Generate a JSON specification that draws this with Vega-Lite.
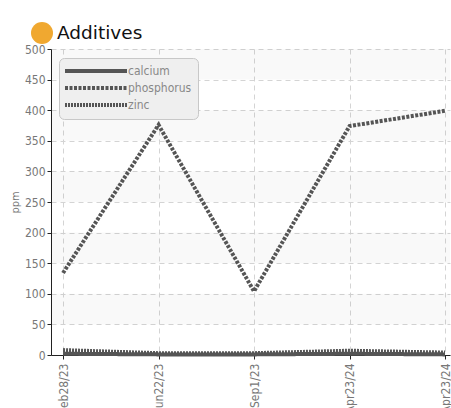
{
  "$schema": "https://vega.github.io/schema/vega-lite/v6.json",
  "width": 399,
  "height": 306,
  "autosize": {"type": "none"},
  "padding": {"left": 51, "top": 49, "right": 1, "bottom": 53},
  "background": "white",
  "config": {
    "view": {"stroke": null},
    "font": "DejaVu Sans Condensed, Roboto Condensed, Roboto, sans-serif",
    "axis": {
      "labelFont": "DejaVu Sans Condensed, Roboto Condensed, Roboto, sans-serif",
      "labelFontSize": 12,
      "labelColor": "#777777",
      "domainColor": "#222222",
      "tickColor": "#222222",
      "tickSize": 4,
      "gridColor": "#d4d4d4",
      "gridDash": [5, 4],
      "gridWidth": 1,
      "titleFont": "DejaVu Sans Condensed, Roboto Condensed, Roboto, sans-serif",
      "titleFontWeight": "normal",
      "titleFontSize": 11,
      "titleColor": "#777777"
    }
  },
  "datasets": {
    "bands": [
      {"lo": 50, "hi": 100},
      {"lo": 150, "hi": 200},
      {"lo": 250, "hi": 300},
      {"lo": 350, "hi": 400},
      {"lo": 450, "hi": 500}
    ],
    "readings": [
      {"idx": 0, "date": "Feb28/23", "analyte": "calcium", "ppm": 2},
      {"idx": 1, "date": "Jun22/23", "analyte": "calcium", "ppm": 1},
      {"idx": 2, "date": "Sep1/23", "analyte": "calcium", "ppm": 1},
      {"idx": 3, "date": "Apr23/24", "analyte": "calcium", "ppm": 2},
      {"idx": 4, "date": "Apr23/24", "analyte": "calcium", "ppm": 1},
      {"idx": 0, "date": "Feb28/23", "analyte": "phosphorus", "ppm": 134},
      {"idx": 1, "date": "Jun22/23", "analyte": "phosphorus", "ppm": 376},
      {"idx": 2, "date": "Sep1/23", "analyte": "phosphorus", "ppm": 104},
      {"idx": 3, "date": "Apr23/24", "analyte": "phosphorus", "ppm": 374},
      {"idx": 4, "date": "Apr23/24", "analyte": "phosphorus", "ppm": 399},
      {"idx": 0, "date": "Feb28/23", "analyte": "zinc", "ppm": 8},
      {"idx": 1, "date": "Jun22/23", "analyte": "zinc", "ppm": 3},
      {"idx": 2, "date": "Sep1/23", "analyte": "zinc", "ppm": 3},
      {"idx": 3, "date": "Apr23/24", "analyte": "zinc", "ppm": 7},
      {"idx": 4, "date": "Apr23/24", "analyte": "zinc", "ppm": 4}
    ],
    "panel": [{"panel": "Additives"}]
  },
  "layer": [
    {
      "data": {"name": "bands"},
      "mark": {"type": "rect", "color": "#000000", "opacity": 0.022},
      "encoding": {
        "y": {
          "field": "lo",
          "type": "quantitative",
          "scale": {"domain": [0, 500], "nice": false},
          "axis": {"title": "ppm", "values": [0, 50, 100, 150, 200, 250, 300, 350, 400, 450, 500], "labelPadding": 2, "titlePadding": 4}
        },
        "y2": {"field": "hi"}
      }
    },
    {
      "data": {"name": "readings"},
      "mark": {"type": "line", "color": "#555555"},
      "encoding": {
        "x": {
          "field": "idx",
          "type": "quantitative",
          "scale": {"domain": [-0.126, 4.052], "nice": false, "zero": false},
          "axis": {
            "title": null,
            "values": [0, 1, 2, 3, 4],
            "labelAngle": -90,
            "labelPadding": 4,
            "labelExpr": "['Feb28/23','Jun22/23','Sep1/23','Apr23/24','Apr23/24'][datum.value]"
          }
        },
        "y": {
          "field": "ppm",
          "type": "quantitative",
          "axis": {"title": "ppm", "values": [0, 50, 100, 150, 200, 250, 300, 350, 400, 450, 500], "labelPadding": 2, "titlePadding": 4}
        },
        "strokeDash": {
          "field": "analyte",
          "type": "nominal",
          "scale": {"domain": ["calcium", "phosphorus", "zinc"], "range": [[1, 0], [3, 1.5], [2, 1]]},
          "legend": {
            "orient": "none",
            "legendX": 8,
            "legendY": 9,
            "title": null,
            "fillColor": "#efefef",
            "strokeColor": "#c8c8c8",
            "cornerRadius": 5,
            "padding": 6,
            "symbolType": "M-6.2,0H6.2",
            "symbolSize": 100,
            "symbolOffset": 24,
            "labelOffset": 25,
            "labelFont": "DejaVu Sans Condensed, Roboto Condensed, Roboto, sans-serif",
            "labelFontSize": 12,
            "labelColor": "#888888",
            "rowPadding": 1
          }
        },
        "strokeWidth": {
          "field": "analyte",
          "type": "nominal",
          "scale": {"domain": ["calcium", "phosphorus", "zinc"], "range": [4, 4, 2.5]},
          "legend": null
        }
      }
    },
    {
      "data": {"name": "panel"},
      "mark": {"type": "point", "filled": true, "opacity": 0},
      "encoding": {
        "fill": {
          "field": "panel",
          "type": "nominal",
          "scale": {"range": ["#f0a830"]},
          "legend": {
            "orient": "none",
            "legendX": -20,
            "legendY": -27,
            "title": null,
            "padding": 0,
            "symbolType": "circle",
            "symbolSize": 484,
            "symbolOpacity": 1,
            "symbolStrokeWidth": 0,
            "labelOffset": 4,
            "labelFont": "DejaVu Sans",
            "labelFontSize": 18.5,
            "labelColor": "#111111"
          }
        }
      }
    }
  ]
}
